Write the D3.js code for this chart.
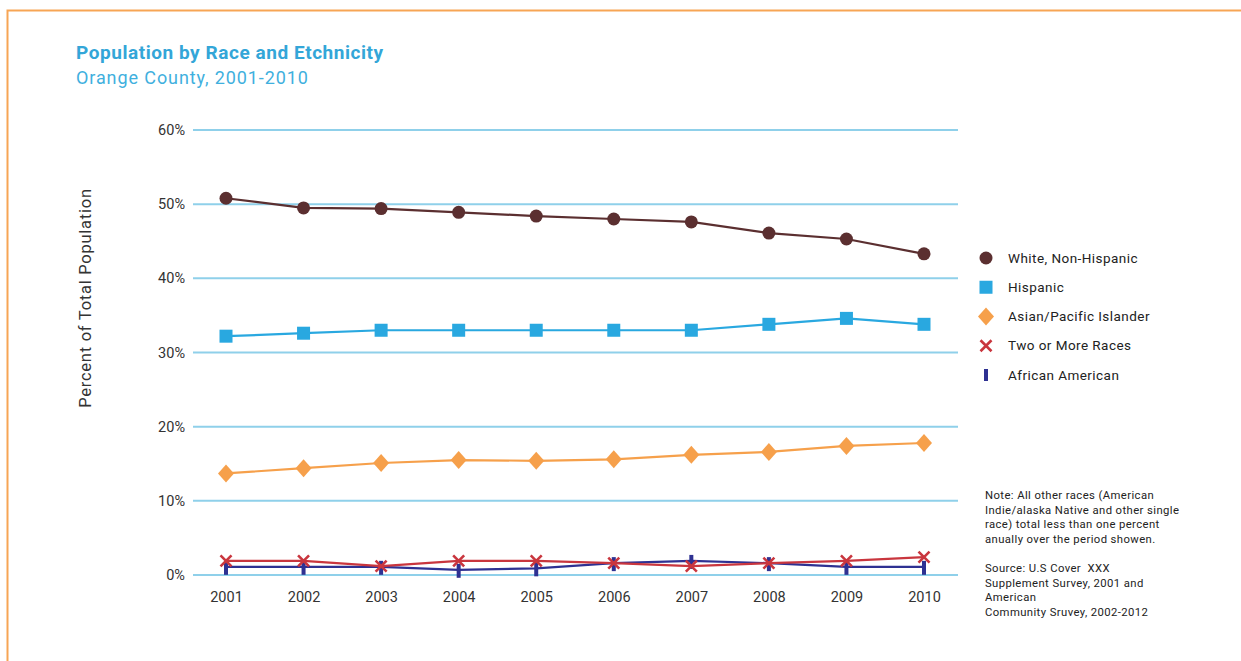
<!DOCTYPE html>
<html><head><meta charset="utf-8">
<script src="https://cdn.jsdelivr.net/npm/d3@7"></script>
<style>
body{margin:0;background:#fff;}
svg{display:block;font-family:Roboto, "Open Sans", sans-serif;}
</style></head>
<body>
<svg id="chart" width="1241" height="661"></svg>
<script>
const years = [2001,2002,2003,2004,2005,2006,2007,2008,2009,2010];
const whiteNonHispanic = [50.8,49.5,49.4,48.9,48.4,48.0,47.6,46.1,45.3,43.3];
const hispanic = [32.2,32.6,33.0,33.0,33.0,33.0,33.0,33.8,34.6,33.8];
const asianPacific = [13.7,14.4,15.1,15.5,15.4,15.6,16.2,16.6,17.4,17.8];
const twoOrMore = [1.9,1.9,1.2,1.9,1.9,1.6,1.2,1.6,1.9,2.4];
const africanAmerican = [1.1,1.1,1.1,0.7,0.9,1.6,1.9,1.6,1.1,1.1];
const yTicks = [0,10,20,30,40,50,60];
const seriesNames = ["White, Non-Hispanic","Hispanic","Asian/Pacific Islander","Two or More Races","African American"];
const noteLines = ["Note: All other races (American","Indie/alaska Native and other single","race) total less than one percent","anually over the period showen."];
const sourceLines = ["Source: U.S Cover  XXX","Supplement Survey, 2001 and","American","Community Sruvey, 2002-2012"];

const series = [
  {name:seriesNames[0], values:whiteNonHispanic, color:"#5b2f30", marker:"circle"},
  {name:seriesNames[1], values:hispanic, color:"#29a8e0", marker:"square"},
  {name:seriesNames[2], values:asianPacific, color:"#f6a04b", marker:"diamond"},
  {name:seriesNames[3], values:twoOrMore, color:"#c9363e", marker:"x"},
  {name:seriesNames[4], values:africanAmerican, color:"#2e3192", marker:"bar"}
];

const svg = d3.select("#chart");
// border
svg.append("path").attr("d","M7.5,661 L7.5,10.5 L1241,10.5").attr("fill","none").attr("stroke","#f7a555").attr("stroke-width",2);

svg.append("text").attr("x",76).attr("y",59).attr("fill","#33a6d8").attr("font-size",19).attr("letter-spacing",0.55).attr("font-weight","bold").text("Population by Race and Etchnicity");
svg.append("text").attr("x",76).attr("y",84).attr("fill","#3fb0de").attr("font-size",18).attr("letter-spacing",0.9).text("Orange County, 2001-2010");

const x = d3.scalePoint().domain(years).range([226,924]);
const y = d3.scaleLinear().domain([0,60]).range([575,130]);

// grid
svg.append("g").selectAll("line").data(yTicks).join("line")
  .attr("x1",193).attr("x2",958).attr("y1",d=>y(d)).attr("y2",d=>y(d))
  .attr("stroke","#8fd0ea").attr("stroke-width",2);

const yAxis = svg.append("g").attr("transform","translate(193,0)")
  .call(d3.axisLeft(y).tickValues(yTicks).tickSize(0).tickPadding(8).tickFormat(d=>d+"%"));
yAxis.select(".domain").remove();
yAxis.selectAll("text").attr("font-size",14.5).attr("fill","#333").attr("font-family","Roboto, sans-serif");

const xAxis = svg.append("g").attr("transform","translate(0,575)")
  .call(d3.axisBottom(x).tickSize(0).tickPadding(17).tickFormat(d3.format("d")));
xAxis.select(".domain").remove();
xAxis.selectAll("text").attr("font-size",14.5).attr("fill","#333").attr("font-family","Roboto, sans-serif");

svg.append("text").attr("transform","translate(91,298) rotate(-90)").attr("text-anchor","middle")
  .attr("font-size",16.5).attr("letter-spacing",0.75).attr("fill","#333").text("Percent of Total Population");

const line = d3.line().x((d,i)=>x(years[i])).y(d=>y(d));

function drawMarker(g, type, color){
  if(type==="circle") g.append("circle").attr("r",6.5).attr("fill",color);
  else if(type==="square") g.append("rect").attr("x",-6.5).attr("y",-6.5).attr("width",13).attr("height",13).attr("fill",color);
  else if(type==="diamond") g.append("path").attr("d","M0,-9 L8,0 L0,9 L-8,0Z").attr("fill",color);
  else if(type==="x") g.append("path").attr("d","M-5.5,-5.5L5.5,5.5M5.5,-5.5L-5.5,5.5").attr("stroke",color).attr("stroke-width",2.6).attr("fill","none");
  else if(type==="bar") g.append("rect").attr("x",-2).attr("y",-6).attr("width",4).attr("height",14).attr("fill",color);
}

// draw order: bar, x, diamond, square, circle
const order = [4,3,2,1,0];
order.forEach(k=>{
  const s = series[k];
  svg.append("path").datum(s.values).attr("d",line).attr("fill","none").attr("stroke",s.color).attr("stroke-width",2.2);
  s.values.forEach((v,i)=>{
    const g = svg.append("g").attr("transform",`translate(${x(years[i])},${y(v)})`);
    drawMarker(g,s.marker,s.color);
  });
});

// legend
const legendY = d3.scalePoint().domain(seriesNames).range([258,375]);
series.forEach(s=>{
  const g = svg.append("g").attr("transform",`translate(986,${legendY(s.name)})`);
  if(s.marker==="bar") g.append("rect").attr("x",-2).attr("y",-6).attr("width",4).attr("height",12).attr("fill",s.color);
  else drawMarker(g,s.marker,s.color);
  svg.append("text").attr("x",1008).attr("y",legendY(s.name)+4.5).attr("font-size",13.5).attr("letter-spacing",0.45).attr("fill","#222").text(s.name);
});

noteLines.forEach((t,i)=>svg.append("text").attr("x",985).attr("y",499+i*14.6).attr("font-size",11.3).attr("letter-spacing",0.4).attr("fill","#222").text(t));
sourceLines.forEach((t,i)=>svg.append("text").attr("x",985).attr("y",572+i*14.6).attr("font-size",11.3).attr("letter-spacing",0.4).attr("fill","#222").attr("xml:space","preserve").style("white-space","pre").text(t));
</script>
</body></html>
